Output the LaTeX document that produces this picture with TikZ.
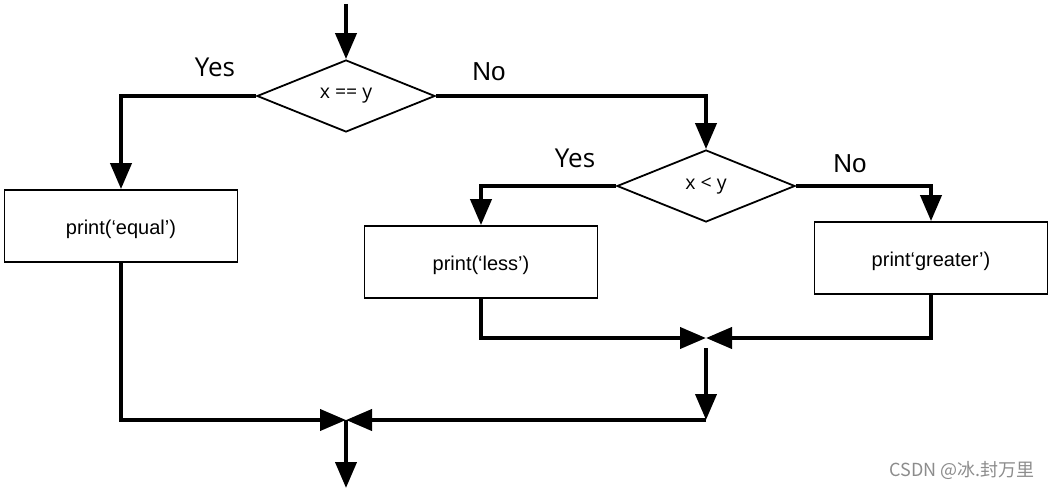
\documentclass[tikz,border=0pt]{standalone}
\usepackage{fontspec}
\setmainfont{Liberation Sans}
\newfontfamily\opensans{Open Sans}
\newfontfamily\cjkfont{Noto Sans CJK SC}
\usetikzlibrary{shapes.geometric, arrows.meta}

\tikzset{
  box/.style={draw, line width=1.8pt, minimum width=233pt, minimum height=72pt,
    inner sep=0pt, text height=20pt, text depth=4pt, font=\fontsize{20}{22}\selectfont},
  test/.style={draw, diamond, line width=1.8pt, minimum width=178pt, minimum height=72pt,
    inner sep=0pt, font=\opensans\fontsize{19.5}{22}\selectfont},
  flow/.style={line width=4pt, -{Triangle[length=26pt,width=21pt]}},
  yeslbl/.style={font=\opensans\fontsize{26}{30}\selectfont},
  nolbl/.style={font=\fontsize{26}{28}\selectfont}
}

\begin{document}
\begin{tikzpicture}[x=1pt,y=-1pt]
  \useasboundingbox (0,0) rectangle (1054,489);

  \node[test] (eq) at (346,96) {x == y};
  \node[test] (lt) at (706,186) {x < y};
  \node[box] (equal) at (121,226) {print(‘equal’)};
  \node[box] (less) at (481,262) {print(‘less’)};
  \node[box] (greater) at (931,258) {print‘greater’)};

  \node[yeslbl] (yes1) at (215,67) {Yes};
  \node[nolbl] (no1) at (489,72) {No};
  \node[yeslbl] (yes2) at (575,158) {Yes};
  \node[nolbl] (no2) at (850,164) {No};

  \coordinate (in) at (346,4);
  \coordinate (j1) at (346,420);
  \coordinate (j2) at (706,338);
  \coordinate (j2b) at (706,420);
  \coordinate (out) at (346,488);

  \draw[flow] (in) -- (eq);
  \draw[flow] (eq.west) -| (equal.north);
  \draw[flow] (eq.east) -| (lt.north);
  \draw[flow] (lt.west) -| (less.north);
  \draw[flow] (lt.east) -| (greater.north);
  \draw[flow] (less.south) |- (j2);
  \draw[flow] (greater.south) |- (j2);
  \draw[flow] ([yshift=-10pt]j2) -- (j2b);
  \draw[flow] (equal.south) |- (j1);
  \draw[flow] (j2b) -- (j1);
  \draw[flow] (j1) -- (out);

  % watermark
  \node[font=\cjkfont\fontsize{18}{20}\selectfont, text=black!45] (mark) at (962,470) {CSDN @冰.封万里};
\end{tikzpicture}
\end{document}
